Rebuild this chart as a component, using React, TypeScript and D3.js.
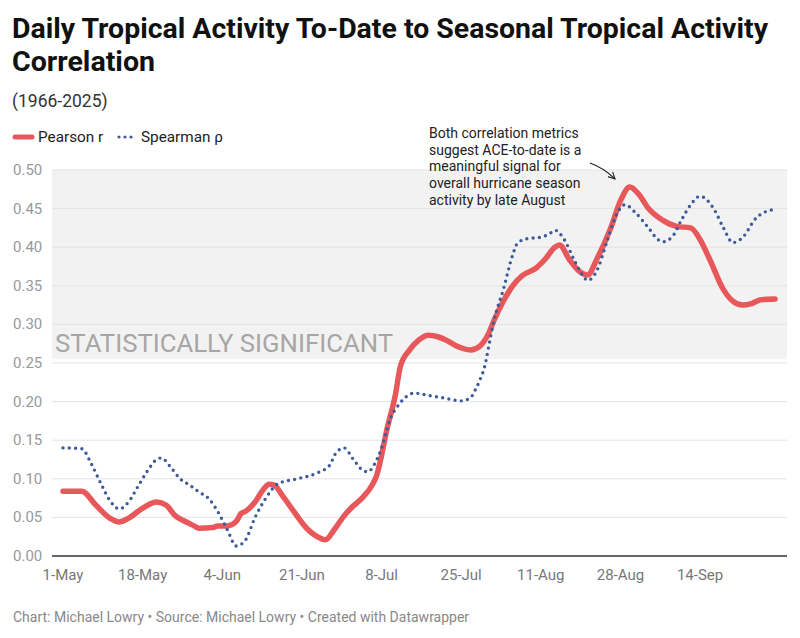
import React, { useEffect, useRef } from "react";
import * as d3 from "d3";

// day offsets counted from 1 May
const pearsonDays = [0, 4, 7, 10, 12, 14, 17, 20, 22, 24, 26, 28, 29, 32, 33, 35, 37, 38, 39, 41, 43, 44, 45, 47, 49, 52, 54, 56, 58, 60, 62, 64, 66, 67, 68, 69, 71, 72, 74, 76, 78, 80, 82, 84, 87, 89, 91, 92, 94, 96, 98, 101, 103, 105, 106, 108, 110, 112, 114, 117, 119, 121, 123, 125, 128, 131, 134, 136, 138, 141, 143, 145, 147, 149, 152];
const pearsonValues = [0.084, 0.084, 0.066, 0.049, 0.044, 0.049, 0.062, 0.07, 0.066, 0.052, 0.045, 0.039, 0.036, 0.037, 0.039, 0.039, 0.045, 0.055, 0.058, 0.07, 0.088, 0.093, 0.092, 0.077, 0.06, 0.036, 0.026, 0.021, 0.035, 0.052, 0.065, 0.076, 0.092, 0.105, 0.13, 0.16, 0.21, 0.245, 0.267, 0.28, 0.286, 0.284, 0.279, 0.272, 0.267, 0.272, 0.29, 0.305, 0.33, 0.35, 0.363, 0.373, 0.385, 0.4, 0.403, 0.385, 0.37, 0.364, 0.385, 0.426, 0.46, 0.478, 0.468, 0.45, 0.435, 0.427, 0.425, 0.41, 0.385, 0.345, 0.33, 0.325, 0.327, 0.332, 0.333];

const spearmanDays = [0, 4, 6, 8, 10, 12, 14, 16, 18, 20, 21, 23, 25, 27, 29, 31, 33, 35, 37, 38, 39, 41, 43, 46, 50, 54, 57, 58, 60, 62, 64, 65, 67, 68, 69, 70, 71, 73, 75, 78, 81, 85, 87, 88, 89, 90, 91, 92, 94, 96, 97, 99, 102, 104, 105, 107, 109, 111, 112, 114, 116, 118, 120, 122, 125, 127, 128, 130, 132, 134, 136, 139, 141, 143, 145, 148, 150, 152];
const spearmanValues = [0.14, 0.139, 0.12, 0.095, 0.072, 0.061, 0.07, 0.09, 0.11, 0.125, 0.127, 0.115, 0.1, 0.092, 0.083, 0.075, 0.058, 0.035, 0.013, 0.015, 0.021, 0.05, 0.072, 0.094, 0.1, 0.107, 0.118, 0.131, 0.14, 0.125, 0.111, 0.109, 0.125, 0.14, 0.16, 0.18, 0.19, 0.205, 0.211, 0.208, 0.205, 0.201, 0.205, 0.215, 0.228, 0.245, 0.275, 0.305, 0.345, 0.39, 0.405, 0.411, 0.413, 0.418, 0.422, 0.41, 0.385, 0.363, 0.357, 0.37, 0.405, 0.44, 0.455, 0.446, 0.425, 0.41, 0.407, 0.413, 0.435, 0.455, 0.466, 0.449, 0.425, 0.406, 0.412, 0.438, 0.446, 0.449];

const xTickLabels = ["1-May", "18-May", "4-Jun", "21-Jun", "8-Jul", "25-Jul", "11-Aug", "28-Aug", "14-Sep"];
const yTicks = [0, 0.05, 0.1, 0.15, 0.2, 0.25, 0.3, 0.35, 0.4, 0.45, 0.5];
const significantFrom = 0.255;

const annotationLines = [
  "Both correlation metrics",
  "suggest ACE-to-date is a",
  "meaningful signal for",
  "overall hurricane season",
  "activity by late August",
];

const RED = "#e8575a";
const BLUE = "#3d5a99";
const FONT = "Roboto, 'Noto Sans', sans-serif";

const start = new Date(2025, 4, 1);
const end = new Date(2025, 8, 30);
const dayToDate = (d: number) => d3.timeDay.offset(start, d);

export default function App() {
  const ref = useRef<SVGSVGElement | null>(null);

  useEffect(() => {
    const width = 800;
    const height = 638;
    const svg = d3.select(ref.current).attr("width", width).attr("height", height);
    svg.selectAll("*").remove();

    const x = d3.scaleTime().domain([start, end]).range([63, 775]);
    const y = d3.scaleLinear().domain([0, 0.5]).range([556, 170]);
    const gridLeft = 52;
    const gridRight = 787;

    // title block
    const title = svg.append("g").attr("font-family", FONT);
    title.append("text").attr("x", 12).attr("y", 38).attr("font-size", 27).attr("font-weight", 700).attr("fill", "#111")
      .attr("textLength", 756).attr("lengthAdjust", "spacingAndGlyphs")
      .text("Daily Tropical Activity To-Date to Seasonal Tropical Activity");
    title.append("text").attr("x", 12).attr("y", 71).attr("font-size", 27).attr("font-weight", 700).attr("fill", "#111")
      .attr("textLength", 143).attr("lengthAdjust", "spacingAndGlyphs")
      .text("Correlation");
    title.append("text").attr("x", 12).attr("y", 107).attr("font-size", 17.5).attr("fill", "#333").text("(1966-2025)");

    // legend
    const legend = svg.append("g").attr("font-family", FONT).attr("font-size", 15.3).attr("fill", "#222");
    legend.append("line").attr("x1", 15).attr("x2", 32).attr("y1", 137).attr("y2", 137)
      .attr("stroke", RED).attr("stroke-width", 5).attr("stroke-linecap", "round");
    legend.append("text").attr("x", 38).attr("y", 142).text("Pearson r");
    legend.append("line").attr("x1", 119).attr("x2", 133).attr("y1", 137).attr("y2", 137)
      .attr("stroke", BLUE).attr("stroke-width", 3.2).attr("stroke-linecap", "round").attr("stroke-dasharray", "0 6");
    legend.append("text").attr("x", 141).attr("y", 142).text("Spearman ρ");

    // significance band
    svg.append("rect").attr("x", gridLeft).attr("width", gridRight - gridLeft)
      .attr("y", y(0.5)).attr("height", y(significantFrom) - y(0.5)).attr("fill", "#f2f2f2");

    // grid
    svg.append("g").selectAll("line").data(yTicks.filter((t) => t > 0)).join("line")
      .attr("x1", gridLeft).attr("x2", gridRight)
      .attr("y1", (d) => y(d)).attr("y2", (d) => y(d))
      .attr("stroke", "#e3e3e3").attr("stroke-width", 1);

    svg.append("text").attr("x", 55).attr("y", 352).attr("font-family", FONT).attr("font-size", 26.5)
      .attr("fill", "#a6a6a6").attr("textLength", 338).attr("lengthAdjust", "spacingAndGlyphs")
      .text("STATISTICALLY SIGNIFICANT");

    // y labels
    svg.append("g").selectAll("text").data(yTicks).join("text")
      .attr("x", 13).attr("y", (d) => y(d) + 5)
      .attr("font-family", FONT).attr("font-size", 15).attr("fill", "#999")
      .text((d) => d3.format(".2f")(d));

    // baseline
    svg.append("line").attr("x1", gridLeft).attr("x2", gridRight).attr("y1", y(0)).attr("y2", y(0))
      .attr("stroke", "#333").attr("stroke-width", 1.5);

    // x labels
    svg.append("g").selectAll("text").data(xTickLabels).join("text")
      .attr("x", (_, i) => x(dayToDate(i * 17)))
      .attr("y", 580)
      .attr("text-anchor", "middle")
      .attr("font-family", FONT).attr("font-size", 15).attr("fill", "#777")
      .text((d) => d);

    const line = d3.line<[number, number]>()
      .x((d) => x(dayToDate(d[0])))
      .y((d) => y(d[1]))
      .curve(d3.curveMonotoneX);

    const pearson = pearsonDays.map((d, i) => [d, pearsonValues[i]] as [number, number]);
    const spearman = spearmanDays.map((d, i) => [d, spearmanValues[i]] as [number, number]);

    svg.append("path").attr("d", line(pearson) as string).attr("fill", "none")
      .attr("stroke", RED).attr("stroke-width", 5.5).attr("stroke-linejoin", "round").attr("stroke-linecap", "round");

    svg.append("path").attr("d", line(spearman) as string).attr("fill", "none")
      .attr("stroke", BLUE).attr("stroke-width", 3.4).attr("stroke-linecap", "round").attr("stroke-dasharray", "0 6.3");

    // annotation
    svg.append("g").selectAll("text").data(annotationLines).join("text")
      .attr("x", 429).attr("y", (_, i) => 138 + i * 16.7)
      .attr("font-family", FONT).attr("font-size", 14).attr("fill", "#222")
      .text((d) => d);

    const defs = svg.append("defs");
    defs.append("marker").attr("id", "arrow").attr("viewBox", "0 0 10 10").attr("refX", 9).attr("refY", 5)
      .attr("markerWidth", 7).attr("markerHeight", 7).attr("orient", "auto-start-reverse")
      .append("path").attr("d", "M1,1 L9,5 L1,9").attr("fill", "none").attr("stroke", "#222").attr("stroke-width", 1.3);
    svg.append("path").attr("d", "M590,163 Q604,168 615,179").attr("fill", "none")
      .attr("stroke", "#222").attr("stroke-width", 1.2).attr("marker-end", "url(#arrow)");

    // footer
    svg.append("text").attr("x", 13).attr("y", 622).attr("font-family", FONT).attr("font-size", 14).attr("fill", "#888")
      .text("Chart: Michael Lowry • Source: Michael Lowry • Created with Datawrapper");
  }, []);

  return (
    <div style={{ position: "absolute", left: 0, top: 0, background: "#fff" }}>
      <svg ref={ref}></svg>
    </div>
  );
}
